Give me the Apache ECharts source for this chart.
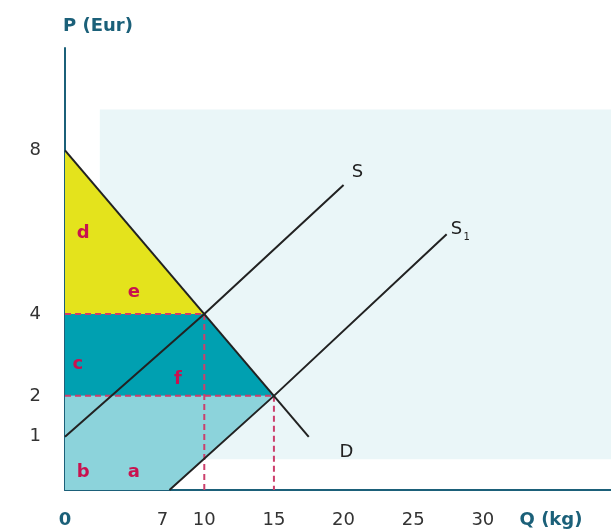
<!DOCTYPE html>
<html><head><meta charset="utf-8">
<script src="https://cdn.jsdelivr.net/npm/echarts@6/dist/echarts.min.js"></script>
<style>html,body{margin:0;padding:0;background:#fff}#c{width:611px;height:532px}</style>
</head><body><div id="c"></div>
<script>
// ---- data ----
const xTicks = [0, 7, 10, 15, 20, 25, 30];
const yTicks = [1, 2, 4, 8];
const demand = [[0, 8], [17.5, 1]];
const supply = [[0, 1], [10, 4], [20, 7.15]];
const supply1 = [[7.5, -0.3], [15, 2], [27.4, 5.95]];
const regionYellow = [[0, 4], [0, 8], [10, 4]];
const regionDark = [[0, 2], [0, 4], [10, 4], [15, 2]];
const regionLight = [[0, -0.3], [0, 2], [15, 2], [7.5, -0.3]];
const backdrop = [[2.5, 0.45], [2.5, 9], [39.2, 9], [39.2, 0.45]];
const guides = [[[0, 4], [10, 4]], [[0, 2], [15, 2]], [[10, 4], [10, -0.3]], [[15, 2], [15, -0.3]]];
const areaLetters = [['d', 1.3, 5.98], ['e', 4.95, 4.54], ['c', 0.93, 2.78], ['f', 8.1, 2.41], ['b', 1.3, 0.14], ['a', 4.95, 0.14]];
const curveNames = [['S', 21.0, 7.47], ['S1', 28.1, 6.07], ['D', 20.2, 0.63]];

const FONT = '"DejaVu Sans", sans-serif';
const AXIS = '#1b6079';
const CRIMSON = '#c8124f';

function polySeries(points, color, z) {
  return {
    type: 'custom', z: z, silent: true, data: [[0, 0]],
    renderItem: function (params, api) {
      return { type: 'polygon', shape: { points: points.map(p => api.coord(p)) }, style: { fill: color } };
    }
  };
}
function lineSeries(data, opts) {
  return Object.assign({
    type: 'line', data: data, symbol: 'none', silent: true, z: 5,
    lineStyle: { color: '#222', width: 2 }
  }, opts || {});
}

const series = [
  polySeries(backdrop, '#eaf6f8', 1),
  polySeries(regionLight, '#8cd3db', 2),
  polySeries(regionDark, '#00a0b1', 2),
  polySeries(regionYellow, '#e4e31c', 2)
];
guides.forEach(g => series.push(lineSeries(g, { z: 4, lineStyle: { color: '#cc3f6c', width: 2, type: [6, 4] } })));
series.push(lineSeries(demand));
series.push(lineSeries(supply));
series.push(lineSeries(supply1));
series.push({
  type: 'custom', z: 6, silent: true,
  data: areaLetters.map(r => [r[1], r[2]]),
  renderItem: function (params, api) {
    const p = api.coord([api.value(0), api.value(1)]);
    return { type: 'text', x: p[0], y: p[1], style: { text: areaLetters[params.dataIndex][0], fill: CRIMSON, fontSize: 18, fontWeight: 'bold', fontFamily: FONT, align: 'center', verticalAlign: 'middle' } };
  }
});
series.push({
  type: 'custom', z: 6, silent: true,
  data: curveNames.map(r => [r[1], r[2]]),
  renderItem: function (params, api) {
    const p = api.coord([api.value(0), api.value(1)]);
    const name = curveNames[params.dataIndex][0];
    const main = name.charAt(0), sub = name.slice(1);
    const children = [{ type: 'text', x: p[0], y: p[1], style: { text: main, fill: '#222', fontSize: 18, fontFamily: FONT, align: 'center', verticalAlign: 'middle' } }];
    if (sub) children.push({ type: 'text', x: p[0] + 7, y: p[1] + 8, style: { text: sub, fill: '#222', fontSize: 10, fontFamily: FONT, align: 'left', verticalAlign: 'middle' } });
    return { type: 'group', children: children };
  }
});

const chart = echarts.init(document.getElementById('c'), null, { renderer: 'canvas' });
chart.setOption({
  animation: false,
  grid: { left: 65, right: 0, top: 48, bottom: 42, containLabel: false },
  xAxis: {
    type: 'value', min: 0, max: 39.2,
    axisLine: { onZero: false, lineStyle: { color: AXIS, width: 2 } },
    axisTick: { show: false },
    splitLine: { show: false },
    axisLabel: {
      customValues: xTicks, margin: 21, fontSize: 18, fontFamily: FONT, color: '#333',
      formatter: v => v === 0 ? '{z|0}' : String(v),
      rich: { z: { color: AXIS, fontWeight: 'bold', fontSize: 18, fontFamily: FONT } }
    }
  },
  yAxis: {
    type: 'value', min: -0.3, max: 10.5,
    axisLine: { show: true, onZero: false, lineStyle: { color: AXIS, width: 2 } },
    axisTick: { show: false },
    splitLine: { show: false },
    axisLabel: { customValues: yTicks, margin: 24, fontSize: 18, fontFamily: FONT, color: '#333' }
  },
  graphic: [
    { type: 'text', x: 63, y: 26, style: { text: 'P (Eur)', fill: AXIS, fontSize: 18, fontWeight: 'bold', fontFamily: FONT, verticalAlign: 'middle' } },
    { type: 'text', x: 551, y: 520, style: { text: 'Q (kg)', fill: AXIS, fontSize: 18, fontWeight: 'bold', fontFamily: FONT, align: 'center', verticalAlign: 'middle' } }
  ],
  series: series
});
</script>
</body></html>
